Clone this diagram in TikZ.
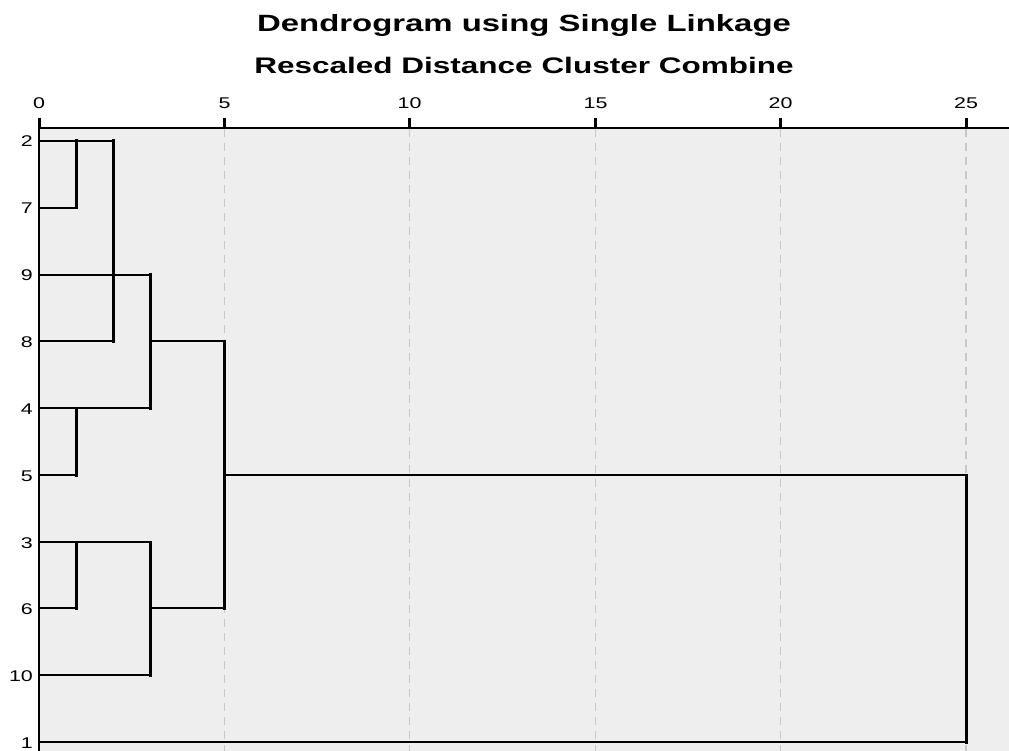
\documentclass[tikz,border=0pt]{standalone}
\usepackage{fontspec}
\setmainfont{Liberation Sans}
\newfontfamily\wide{Liberation Sans}[FakeStretch=1.38]
\newfontfamily\widebf{Liberation Sans Bold}[FakeStretch=1.40]
\definecolor{plotbg}{HTML}{EEEEEE}
\definecolor{gridgray}{HTML}{C8C8C8}
\tikzset{
  hline/.style={line width=2pt, black},
  vline/.style={line width=3pt, black, line cap=rect},
  gridline/.style={line width=1.5pt, gridgray, dash pattern=on 8pt off 6pt},
  ticklab/.style={font=\wide\fontsize{15.5}{16}\selectfont, anchor=base, inner sep=0pt},
  leaflab/.style={font=\wide\fontsize{15.5}{16}\selectfont, anchor=base east, inner sep=0pt},
  titlelab/.style={font=\widebf\fontsize{23.5}{26}\selectfont, anchor=base, inner sep=0pt},
}
\begin{document}
\begin{tikzpicture}[x=1pt,y=-1pt]
\useasboundingbox (0,0) rectangle (1009,751);
% plot area
\fill[plotbg] (39,128) rectangle (1009,751);
% titles
\node[titlelab] (title) at (524,32) {Dendrogram using Single Linkage};
\node[titlelab, font=\widebf\fontsize{22.5}{25}\selectfont] (subtitle) at (524,74) {Rescaled Distance Cluster Combine};
% grid lines and ticks
\foreach \v/\xx in {5/224.5,10/409.5,15/595.5,20/780.5,25/966}{
  \draw[gridline] (\xx,129) -- (\xx,751);
}
\foreach \v/\xx in {0/39,5/224.5,10/409.5,15/595.5,20/780.5,25/966}{
  \draw[line width=3pt] (\xx,118) -- (\xx,128);
  \node[ticklab] (t\v) at (\xx,109) {\v};
}
% axes
\draw[line width=1.6pt] (39,128) -- (1009,128);
\draw[line width=1.6pt] (39,118) -- (39,751);
% leaves
\foreach \lab/\yy in {2/141,7/208,9/275,8/341,4/408,5/475,3/542,6/608,10/675,1/742}{
  \node[leaflab] (l\lab) at (33,\yy+6) {\lab};
  \coordinate (a\lab) at (39,\yy);
}
% merge points
\coordinate (m27a) at (76,141);   \coordinate (m27b) at (76,208);
\coordinate (m278a) at (113,141); \coordinate (m278b) at (113,341);
\coordinate (m9a) at (150,275); \coordinate (m9b) at (150,408);
\coordinate (m45a) at (76,408); \coordinate (m45b) at (76,475);
\coordinate (m36a) at (76,542); \coordinate (m36b) at (76,608);
\coordinate (m10a) at (150,542); \coordinate (m10b) at (150,675);
\coordinate (mupper) at (150,341); \coordinate (mlower) at (150,608);
\coordinate (m5a) at (224.5,341); \coordinate (m5b) at (224.5,608);
\coordinate (m5c) at (224.5,475);
\coordinate (m25a) at (966,475); \coordinate (m25b) at (966,742);
% horizontals
\draw[hline] (a2) -- (m278a);
\draw[hline] (a7) -- (m27b);
\draw[hline] (a9) -- (m9a);
\draw[hline] (a8) -- (m278b);
\draw[hline] (a4) -- (m9b);
\draw[hline] (a5) -- (m45b);
\draw[hline] (a3) -- (m10a);
\draw[hline] (a6) -- (m36b);
\draw[hline] (a10) -- (m10b);
\draw[hline] (a1) -- (m25b);
\draw[hline] (mupper) -- (m5a);
\draw[hline] (mlower) -- (m5b);
\draw[hline] (m5c) -- (m25a);
% verticals
\draw[vline] (m27a) -- (m27b);
\draw[vline] (m278a) -- (m278b);
\draw[vline] (m9a) -- (m9b);
\draw[vline] (m45a) -- (m45b);
\draw[vline] (m36a) -- (m36b);
\draw[vline] (m10a) -- (m10b);
\draw[vline] (m5a) -- (m5b);
\draw[vline] (m25a) -- (m25b);
\end{tikzpicture}
\end{document}
